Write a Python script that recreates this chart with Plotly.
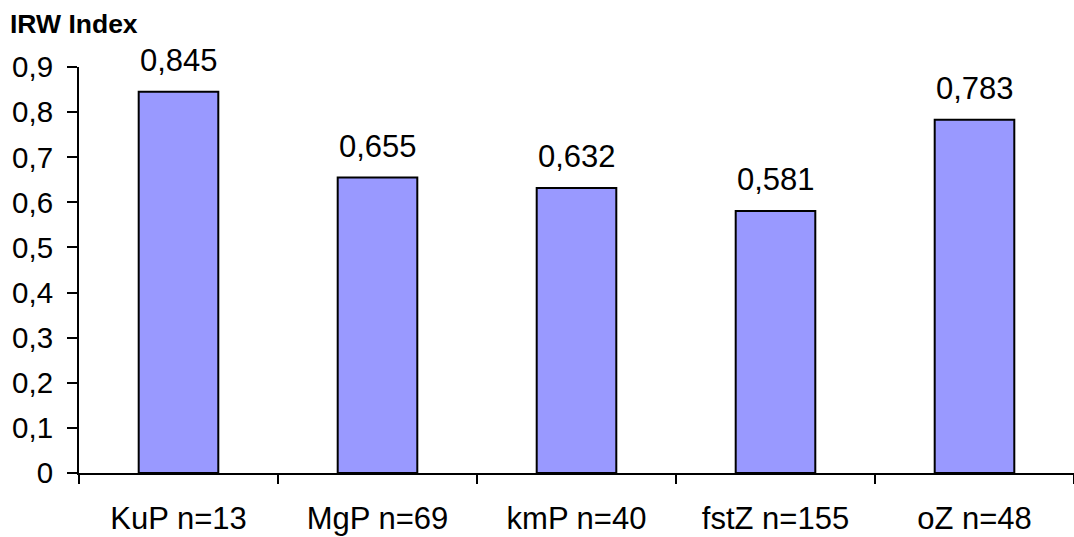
import plotly.graph_objects as go

categories = ["KuP n=13", "MgP n=69", "kmP n=40", "fstZ n=155", "oZ n=48"]
values = [0.845, 0.655, 0.632, 0.581, 0.783]
y_ticks = [0, 0.1, 0.2, 0.3, 0.4, 0.5, 0.6, 0.7, 0.8, 0.9]
y_tick_labels = ["0", "0,1", "0,2", "0,3", "0,4", "0,5", "0,6", "0,7", "0,8", "0,9"]

FONT = "Liberation Sans, Arial, sans-serif"
BAR_COLOR = "#9999FF"

fig = go.Figure(
    go.Bar(
        x=categories,
        y=values,
        width=0.4,
        marker=dict(color=BAR_COLOR, line=dict(color="black", width=2)),
        hoverinfo="skip",
    )
)

# value labels above each bar
for c, v in zip(categories, values):
    fig.add_annotation(
        x=c, y=v, text=f"{v:.3f}".replace(".", ","),
        showarrow=False, yanchor="middle", yshift=31,
        font=dict(family=FONT, size=31, color="black"),
    )

fig.update_layout(
    width=1074, height=537,
    margin=dict(l=79, r=0, t=67, b=64),
    paper_bgcolor="white", plot_bgcolor="white",
    showlegend=False,
    font=dict(family=FONT, size=30, color="black"),
    title=dict(
        text="<b>IRW Index</b>",
        x=10 / 1074, xref="container", xanchor="left",
        y=1 - 24 / 537, yref="container", yanchor="middle",
        font=dict(family=FONT, size=26.5, color="black"),
    ),
    xaxis=dict(
        range=[-0.5, 4.5],
        showline=True, linecolor="black", linewidth=2,
        ticks="outside", tickson="boundaries", ticklen=9, tickwidth=2, tickcolor="black",
        showgrid=False, zeroline=False,
        ticklabelstandoff=17,
        tickfont=dict(family=FONT, size=31, color="black"),
    ),
    yaxis=dict(
        range=[0, 0.9],
        tickvals=y_ticks, ticktext=y_tick_labels,
        showline=True, linecolor="black", linewidth=2,
        ticks="outside", ticklen=10, tickwidth=2, tickcolor="black",
        showgrid=False, zeroline=False,
        ticklabelstandoff=8,
        tickfont=dict(family=FONT, size=29.5, color="black"),
    ),
)

fig.write_html("out.html")
